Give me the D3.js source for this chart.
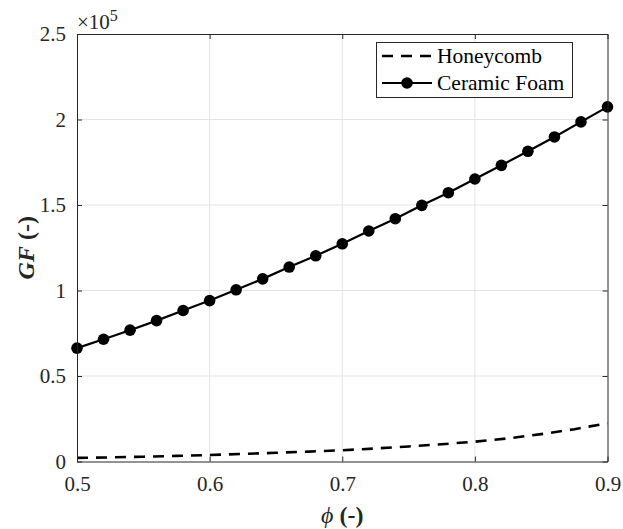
<!DOCTYPE html>
<html>
<head>
<meta charset="utf-8">
<script src="https://cdn.jsdelivr.net/npm/d3@7"></script>
<style>
  html, body { margin: 0; padding: 0; background: #fff; }
  svg { display: block; font-family: "Liberation Serif", "Times New Roman", serif; }
  svg text { font-family: "Liberation Serif", "Times New Roman", serif; }
</style>
</head>
<body>
<svg id="chart" width="623" height="529"></svg>
<script>
// Porosity values (phi) and gravimetric factor GF (in units of 1e5)
const phiFoam = [0.50, 0.52, 0.54, 0.56, 0.58, 0.60, 0.62, 0.64, 0.66, 0.68, 0.70,
                 0.72, 0.74, 0.76, 0.78, 0.80, 0.82, 0.84, 0.86, 0.88, 0.90];
const gfFoam  = [0.663, 0.715, 0.768, 0.824, 0.883, 0.941, 1.004, 1.068, 1.137, 1.203, 1.273,
                 1.348, 1.420, 1.498, 1.572, 1.652, 1.732, 1.814, 1.898, 1.986, 2.074];

const phiHoney = [0.500, 0.525, 0.550, 0.575, 0.600, 0.625, 0.650, 0.675, 0.700,
                  0.725, 0.750, 0.775, 0.800, 0.825, 0.850, 0.875, 0.900];
const gfHoney  = [0.021, 0.024, 0.028, 0.033, 0.038, 0.044, 0.051, 0.058, 0.066,
                  0.076, 0.088, 0.101, 0.116, 0.135, 0.160, 0.189, 0.224];

const xTicks = [0.5, 0.6, 0.7, 0.8, 0.9];
const yTicks = [0, 0.5, 1, 1.5, 2, 2.5];
const seriesNames = ["Honeycomb", "Ceramic Foam"];

const svg = d3.select("#chart");
const L = 77, R = 607.5, T = 34, B = 461.5;

const x = d3.scaleLinear().domain([0.5, 0.9]).range([L, R]);
const y = d3.scaleLinear().domain([0, 2.5]).range([B, T]);

const axisColor = "#262626";
const gridColor = "#e3e3e3";

// grid
const grid = svg.append("g");
grid.selectAll("line.gx").data(xTicks.slice(1, -1)).enter().append("line")
  .attr("x1", d => x(d)).attr("x2", d => x(d)).attr("y1", T).attr("y2", B)
  .attr("stroke", gridColor).attr("stroke-width", 1);
grid.selectAll("line.gy").data(yTicks.slice(1, -1)).enter().append("line")
  .attr("x1", L).attr("x2", R).attr("y1", d => y(d)).attr("y2", d => y(d))
  .attr("stroke", gridColor).attr("stroke-width", 1);

// honeycomb (dashed)
const line = d3.line().x(d => x(d[0])).y(d => y(d[1]));
svg.append("path")
  .datum(phiHoney.map((p, i) => [p, gfHoney[i]]))
  .attr("d", line)
  .attr("fill", "none").attr("stroke", "#000").attr("stroke-width", 2.6)
  .attr("stroke-dasharray", "11,8");

// ceramic foam (solid with markers)
const foam = phiFoam.map((p, i) => [p, gfFoam[i]]);
svg.append("path").datum(foam).attr("d", line)
  .attr("fill", "none").attr("stroke", "#000").attr("stroke-width", 2.2);
svg.selectAll("circle.foam").data(foam).enter().append("circle")
  .attr("cx", d => x(d[0])).attr("cy", d => y(d[1])).attr("r", 5.8)
  .attr("fill", "#000");

// axes (box with inward ticks on all sides)
const fontSize = 21;
const xAxisB = d3.axisBottom(x).tickValues(xTicks).tickSizeInner(-5).tickSizeOuter(0)
  .tickPadding(15).tickFormat(d3.format(".1f"));
const xAxisT = d3.axisTop(x).tickValues(xTicks).tickSizeInner(-5).tickSizeOuter(0).tickFormat("");
const yAxisL = d3.axisLeft(y).tickValues(yTicks).tickSizeInner(-5).tickSizeOuter(0)
  .tickPadding(11).tickFormat(d => d === 0 ? "0" : d3.format("~g")(d));
const yAxisR = d3.axisRight(y).tickValues(yTicks).tickSizeInner(-5).tickSizeOuter(0).tickFormat("");

function styleAxis(g) {
  g.attr("font-family", null).attr("font-size", null);
  g.select(".domain").attr("stroke", axisColor).attr("stroke-width", 1);
  g.selectAll(".tick line").attr("stroke", axisColor).attr("stroke-width", 1);
  g.selectAll(".tick text").attr("fill", axisColor).style("font-size", fontSize + "px");
}
svg.append("g").attr("transform", `translate(0,${B})`).call(xAxisB).call(styleAxis);
svg.append("g").attr("transform", `translate(0,${T})`).call(xAxisT).call(styleAxis);
svg.append("g").attr("transform", `translate(${L},0)`).call(yAxisL).call(styleAxis);
svg.append("g").attr("transform", `translate(${R},0)`).call(yAxisR).call(styleAxis);

// exponent label
const expo = svg.append("text").attr("x", 77).attr("y", 29)
  .attr("fill", axisColor).style("font-size", "21px");
expo.append("tspan").text("×10");
expo.append("tspan").attr("dy", -8).style("font-size", "16px").text("5");

// axis titles
const xt = svg.append("text").attr("x", (L + R) / 2).attr("y", 523)
  .attr("text-anchor", "middle").attr("fill", axisColor).style("font-size", "24px");
xt.append("tspan").style("font-style", "italic").text("ϕ");
xt.append("tspan").style("font-weight", "bold").text(" (-)");

const yt = svg.append("text")
  .attr("transform", `translate(34,${(T + B) / 2}) rotate(-90)`)
  .attr("text-anchor", "middle").attr("fill", axisColor).style("font-size", "24px")
  .style("font-weight", "bold");
yt.append("tspan").style("font-style", "italic").text("GF");
yt.append("tspan").text(" (-)");

// legend
const lg = svg.append("g");
lg.append("rect").attr("x", 376.5).attr("y", 42.5).attr("width", 196).attr("height", 55)
  .attr("fill", "#fff").attr("stroke", axisColor).attr("stroke-width", 1);
lg.append("line").attr("x1", 382).attr("x2", 432).attr("y1", 56).attr("y2", 56)
  .attr("stroke", "#000").attr("stroke-width", 2.6).attr("stroke-dasharray", "11,8");
lg.append("line").attr("x1", 382).attr("x2", 432).attr("y1", 83).attr("y2", 83)
  .attr("stroke", "#000").attr("stroke-width", 2.2);
lg.append("circle").attr("cx", 407).attr("cy", 83).attr("r", 5.8).attr("fill", "#000");
lg.selectAll("text").data(seriesNames).enter().append("text")
  .attr("x", 437).attr("y", (d, i) => 63 + i * 27)
  .attr("fill", "#000").style("font-size", "21.5px").text(d => d);
</script>
</body>
</html>
